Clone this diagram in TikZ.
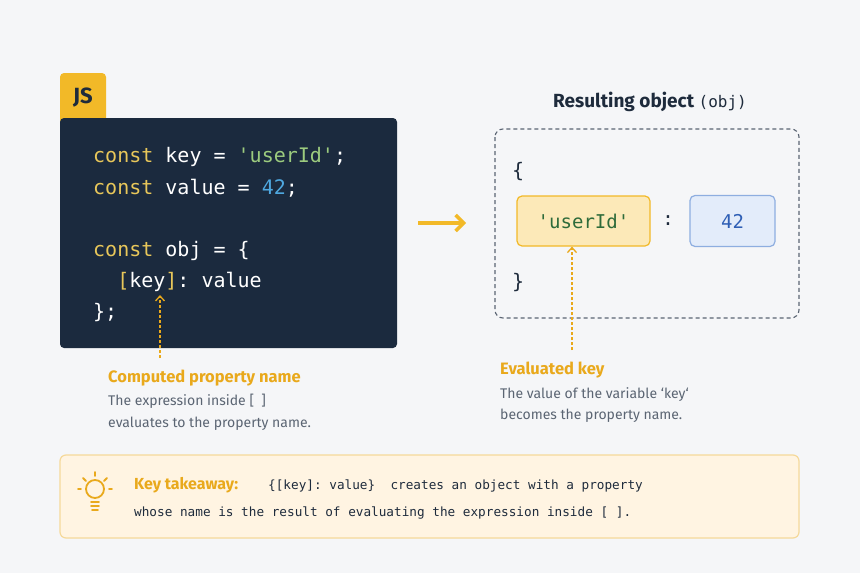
\documentclass[tikz,border=0pt]{standalone}
\usepackage{fontspec}
\setmainfont{Fira Sans}[Ligatures=ResetAll]
\setmonofont{DejaVu Sans Mono}
\usepackage{xcolor}
\definecolor{PageBg}{HTML}{F5F6F8}
\definecolor{CodeBg}{HTML}{1B2A3E}
\definecolor{JsYellow}{HTML}{F2B928}
\definecolor{KeyWord}{HTML}{E8C75A}
\definecolor{StrGreen}{HTML}{9CCB7E}
\definecolor{NumBlue}{HTML}{4FA8E0}
\definecolor{Ink}{HTML}{1E2B3C}
\definecolor{Muted}{HTML}{5B6573}
\definecolor{Accent}{HTML}{E9A91C}
\definecolor{KeyFill}{HTML}{FCE9B8}
\definecolor{ValFill}{HTML}{E3ECFA}
\definecolor{ValLine}{HTML}{8EAEE0}
\definecolor{ValInk}{HTML}{2F5FB5}
\definecolor{KeyInk}{HTML}{2E6B3A}
\definecolor{NoteFill}{HTML}{FFF4E2}
\definecolor{NoteLine}{HTML}{F5D99A}
\usetikzlibrary{arrows.meta}
\tikzset{%
  code/.style={anchor=base west, inner sep=0pt, font=\fontsize{20}{24}\ttfamily, text=white},
  caption head/.style={anchor=base west, inner sep=0pt, font=\fontsize{16.5}{18}\selectfont\bfseries, text=Accent},
  caption body/.style={anchor=base west, inner sep=0pt, font=\fontsize{14}{16}\selectfont, text=Muted},
  pointer/.style={draw=Accent, line width=1.3pt, dash pattern=on 3pt off 2pt, -{Straight Barb[length=5pt,width=9pt]}},
  note/.style={anchor=base west, inner sep=0pt, font=\fontsize{12.7}{14}\ttfamily, text=Ink}
}
\newcommand{\kw}[1]{\textcolor{KeyWord}{#1}}

\begin{document}
\begin{tikzpicture}[x=1pt,y=-1pt]
  \fill[PageBg] (0,0) rectangle (860,573);
  \useasboundingbox (0,0) rectangle (860,573);

  % code panel
  \fill[JsYellow, rounded corners=4pt] (60,73) rectangle (106,124);
  \node[font=\fontsize{22}{24}\selectfont\bfseries, text=Ink] (badge) at (83,98) {JS};
  \fill[CodeBg, rounded corners=4pt] (60,118) rectangle (397,348);
  \node[code] (line1) at (93,162) {\kw{const} key = \textcolor{StrGreen}{'userId'};};
  \node[code] (line2) at (93,194) {\kw{const} value = \textcolor{NumBlue}{42};};
  \node[code] (line3) at (93,256) {\kw{const} obj = \{};
  \node[code] (line4) at (93,287) {\ \ \kw{[}key\kw{]}: value};
  \node[code] (line5) at (93,318) {\};};

  \coordinate (keyfoot) at (160,358);
  \coordinate (keytip) at (160,295);
  \draw[pointer] (keyfoot) -- (keytip);
  \node[caption head] (computed) at (108,382) {Computed property name};
  \node[caption body] (comp1) at (108,405) {The expression inside [\ \ ]};
  \node[caption body] (comp2) at (108,427) {evaluates to the property name.};

  % arrow between panels
  \coordinate (arrowfrom) at (418,223);
  \coordinate (arrowto) at (466,223);
  \draw[JsYellow, line width=3.5pt, -{Straight Barb[length=8pt,width=16pt]}] (arrowfrom) -- (arrowto);

  % resulting object
  \node[font=\fontsize{19}{22}\selectfont\bfseries, text=Ink] (title) at (650,102) {Resulting object {\mdseries\ttfamily\fontsize{16}{18}\selectfont(obj)}};
  \draw[Muted, line width=1.1pt, dash pattern=on 4pt off 3pt, rounded corners=8pt] (495,129) rectangle (799,318);
  \node[code, text=Ink] (open) at (512,177) {\{};
  \node[code, text=Ink] (close) at (512,288) {\}};
  \node[draw=JsYellow, line width=1.2pt, fill=KeyFill, rounded corners=5pt, minimum width=133pt, minimum height=50pt,
    font=\fontsize{19}{22}\ttfamily, text=KeyInk] (keybox) at (583.5,221) {'userId'};
  \node[font=\fontsize{19}{22}\ttfamily, text=Ink] (colon) at (668,221) {:};
  \node[draw=ValLine, line width=1.2pt, fill=ValFill, rounded corners=5pt, minimum width=85pt, minimum height=51pt,
    font=\fontsize{19}{22}\ttfamily, text=ValInk] (valbox) at (732.5,221) {42};

  \coordinate (evalfoot) at (572,350);
  \draw[pointer] (evalfoot) -- (keybox.south -| evalfoot);
  \node[caption head] (evaluated) at (500,374) {Evaluated key};
  \node[caption body] (eval1) at (500,398) {The value of the variable `key`};
  \node[caption body] (eval2) at (500,419) {becomes the property name.};

  % takeaway note
  \draw[NoteLine, line width=1.2pt, fill=NoteFill, rounded corners=6pt] (60,455) rectangle (799,538);
  \begin{scope}[Accent, line width=1.8pt, line cap=round]
    \draw (95,489) circle (9pt);
    \draw (91,502) -- (99,502) (91,506) -- (99,506) (92,510) -- (98,510);
    \draw (95,472) -- (95,476) (83,478) -- (86,481) (107,478) -- (104,481)
          (78,489) -- (81,489) (109,489) -- (112,489);
  \end{scope}
  \node[caption head, font=\fontsize{16}{17}\selectfont\bfseries] (takeaway) at (134,489) {Key takeaway:};
  \node[note] (note1) at (268,489) {\{[key]: value\}\ \ creates an object with a property};
  \node[note] (note2) at (134,516) {whose name is the result of evaluating the expression inside [ ].};
\end{tikzpicture}
\end{document}
